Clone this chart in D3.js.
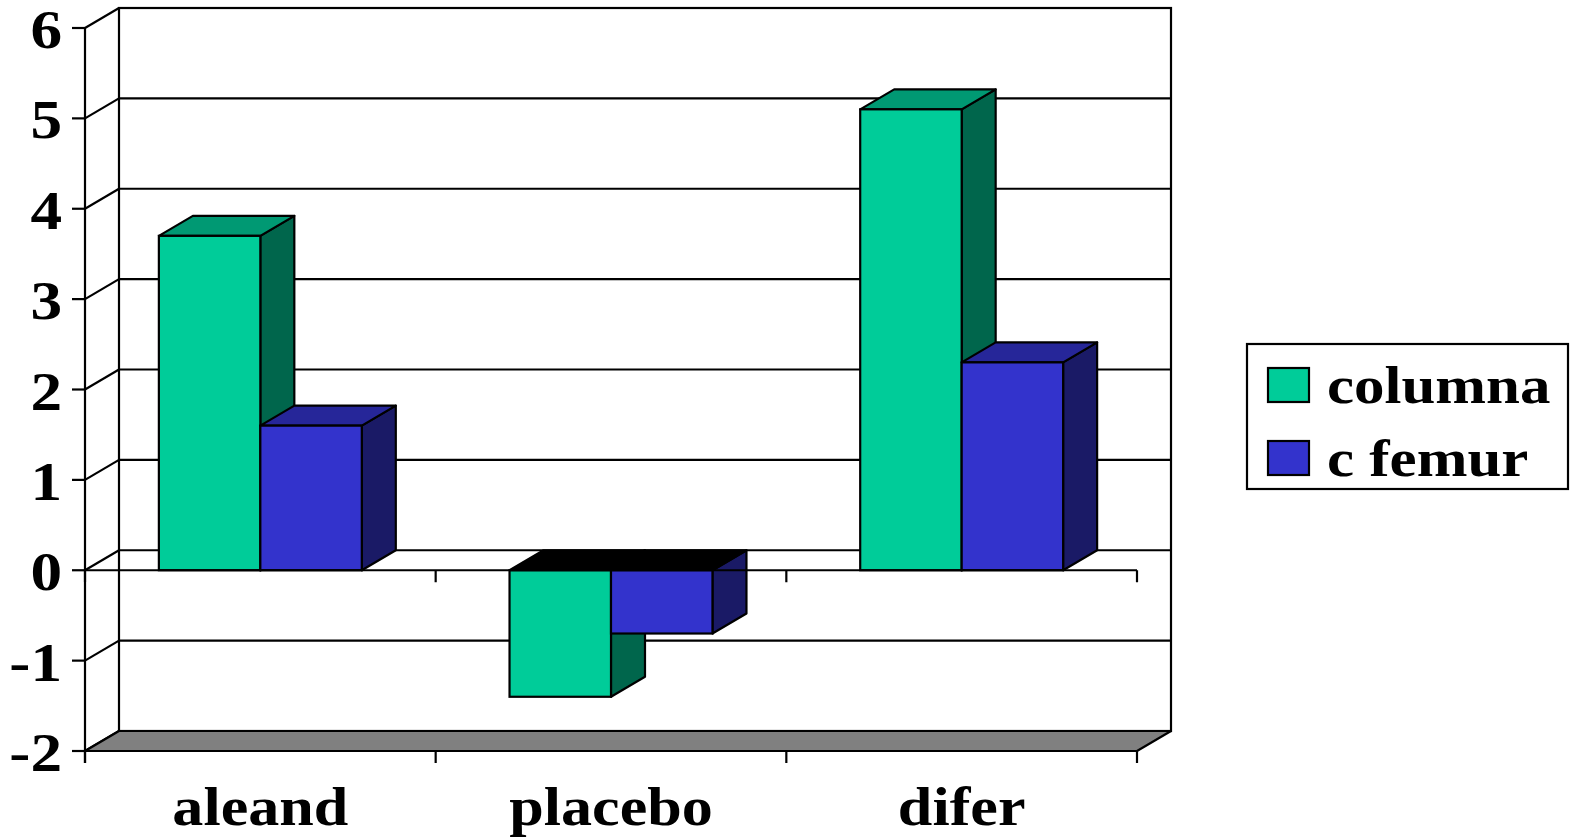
<!DOCTYPE html>
<html>
<head>
<meta charset="utf-8">
<script src="https://cdn.jsdelivr.net/npm/d3@7"></script>
<style>
  html, body { margin: 0; padding: 0; background: #fff; }
  svg { display: block; }
  text { font-family: "Liberation Serif", "Times New Roman", serif; font-weight: bold; fill: #000; }
</style>
</head>
<body>
<svg id="chart" width="1571" height="838"></svg>
<script>
// Data
const categories = ["aleand", "placebo", "difer"];
const seriesNames = ["columna", "c femur"];
const columnaValues = [3.7, -1.4, 5.1];
const femurValues = [1.6, -0.7, 2.3];
const yTicks = [-2, -1, 0, 1, 2, 3, 4, 5, 6];

// Colours: front, side, top faces
const palette = {
  "columna": { front: "#00CC99", side: "#00664C", top: "#009973" },
  "c femur": { front: "#3333CC", side: "#1A1A66", top: "#262699" }
};

const svg = d3.select("#chart");
const seriesValues = { "columna": columnaValues, "c femur": femurValues };

// Scales for the front plane; the back wall is offset by depth
const y = d3.scaleLinear().domain([-2, 6]).range([751, 28]);
const x = d3.scaleBand().domain(categories).range([85, 1137]).paddingInner(0).paddingOuter(0);
const xSub = d3.scaleBand().domain(seriesNames).range([0, x.bandwidth()]).paddingInner(0).paddingOuter(0.728);
const dx = 34, dy = -20;
const x0 = x.range()[0], x1 = x.range()[1];

const stroke = "#000", sw = 2.2;
const pts = a => a.map(p => p.join(",")).join(" ");

// Back wall
svg.append("rect")
  .attr("x", x0 + dx).attr("y", y(6) + dy)
  .attr("width", x1 - x0).attr("height", y(-2) - y(6))
  .attr("fill", "#fff").attr("stroke", stroke).attr("stroke-width", sw);

// Back wall gridlines
svg.append("g").selectAll("line").data(yTicks).join("line")
  .attr("x1", x0 + dx).attr("x2", x1 + dx)
  .attr("y1", d => y(d) + dy).attr("y2", d => y(d) + dy)
  .attr("stroke", stroke).attr("stroke-width", sw);

// Side wall gridlines
svg.append("g").selectAll("line").data(yTicks).join("line")
  .attr("x1", x0).attr("x2", x0 + dx)
  .attr("y1", d => y(d)).attr("y2", d => y(d) + dy)
  .attr("stroke", stroke).attr("stroke-width", sw);

// Floor
svg.append("polygon")
  .attr("points", pts([[x0, y(-2)], [x0 + dx, y(-2) + dy], [x1 + dx, y(-2) + dy], [x1, y(-2)]]))
  .attr("fill", "#808080").attr("stroke", stroke).attr("stroke-width", sw).attr("stroke-linejoin", "round");

// Bars
const bars = [];
categories.forEach((c, i) => {
  seriesNames.forEach(s => bars.push({ cat: c, series: s, value: seriesValues[s][i] }));
});

const barG = svg.append("g");
bars.forEach(b => {
  const bx = x(b.cat) + xSub(b.series);
  const w = xSub.bandwidth();
  const top = Math.min(y(0), y(b.value));
  const bottom = Math.max(y(0), y(b.value));
  const col = palette[b.series];
  const g = barG.append("g");
  g.append("polygon")
    .attr("points", pts([[bx + w, top], [bx + w + dx, top + dy], [bx + w + dx, bottom + dy], [bx + w, bottom]]))
    .attr("fill", col.side).attr("stroke", stroke).attr("stroke-width", sw).attr("stroke-linejoin", "round");
  g.append("polygon")
    .attr("points", pts([[bx, top], [bx + dx, top + dy], [bx + w + dx, top + dy], [bx + w, top]]))
    .attr("fill", b.value < 0 ? "#000" : col.top).attr("stroke", stroke).attr("stroke-width", sw).attr("stroke-linejoin", "round");
  g.append("rect")
    .attr("x", bx).attr("y", top).attr("width", w).attr("height", bottom - top)
    .attr("fill", col.front).attr("stroke", stroke).attr("stroke-width", sw);
});

// Category axis at zero and on the floor, with ticks
svg.append("line")
  .attr("x1", x0).attr("x2", x1).attr("y1", y(0)).attr("y2", y(0))
  .attr("stroke", stroke).attr("stroke-width", sw);
const catTicks = [x0].concat(categories.map(c => x(c) + x.bandwidth()));
[0, -2].forEach(v => {
  svg.append("g").selectAll("line").data(catTicks).join("line")
    .attr("x1", d => d).attr("x2", d => d)
    .attr("y1", y(v)).attr("y2", y(v) + 12)
    .attr("stroke", stroke).attr("stroke-width", sw);
});

// Value axis
svg.append("line")
  .attr("x1", x0).attr("x2", x0).attr("y1", y(6)).attr("y2", y(-2) + 12)
  .attr("stroke", stroke).attr("stroke-width", sw);
svg.append("g").selectAll("line").data(yTicks).join("line")
  .attr("x1", x0 - 13).attr("x2", x0)
  .attr("y1", d => y(d)).attr("y2", d => y(d))
  .attr("stroke", stroke).attr("stroke-width", sw);

const sx = 1.15;
svg.append("g").selectAll("text").data(yTicks).join("text")
  .attr("transform", d => `translate(62,${y(d) + 20}) scale(${sx},1)`)
  .attr("text-anchor", "end")
  .style("font-size", "55px")
  .text(d => d);

svg.append("g").selectAll("text").data(categories).join("text")
  .attr("transform", d => `translate(${x(d) + x.bandwidth() / 2},825) scale(${sx},1)`)
  .attr("text-anchor", "middle")
  .style("font-size", "54px")
  .text(d => d);

// Legend
const lg = svg.append("g");
lg.append("rect")
  .attr("x", 1247).attr("y", 344).attr("width", 321).attr("height", 145)
  .attr("fill", "#fff").attr("stroke", stroke).attr("stroke-width", sw);
seriesNames.forEach((s, i) => {
  const yy = 368 + i * 73;
  lg.append("rect")
    .attr("x", 1268).attr("y", yy).attr("width", 41).attr("height", 34)
    .attr("fill", palette[s].front).attr("stroke", stroke).attr("stroke-width", sw);
  lg.append("text")
    .attr("transform", `translate(1327,${yy + 35}) scale(${sx},1)`)
    .style("font-size", "53px")
    .text(s);
});
</script>
</body>
</html>
